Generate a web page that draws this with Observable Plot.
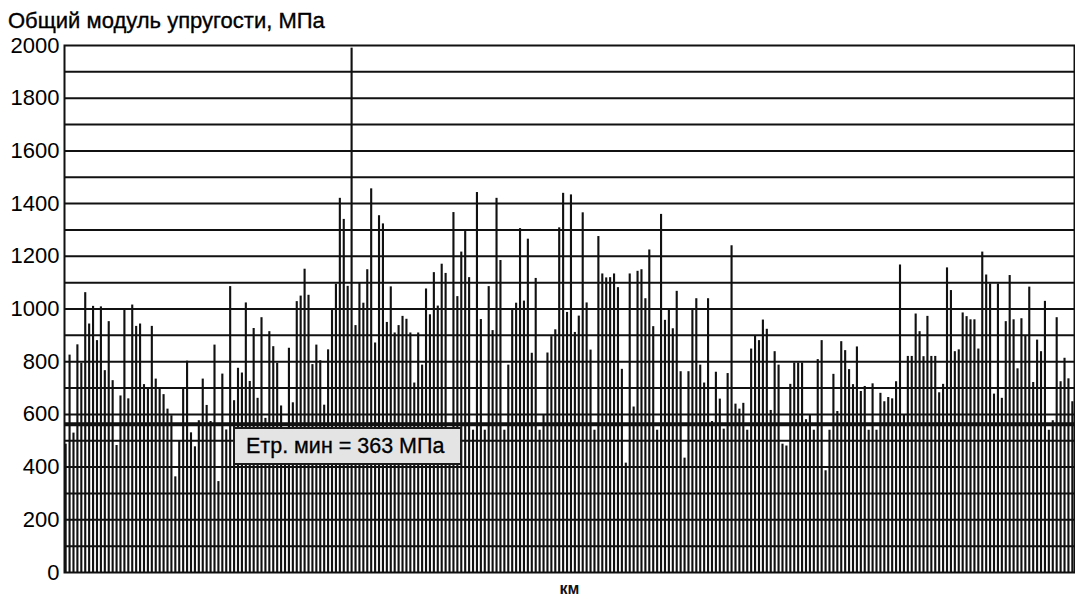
<!DOCTYPE html>
<html>
<head>
<meta charset="utf-8">
<script src="https://cdn.jsdelivr.net/npm/d3@7"></script>
<script src="https://cdn.jsdelivr.net/npm/@observablehq/plot@0.6"></script>
<style>
  html, body { margin: 0; padding: 0; background: #fff; }
  #wrap { position: relative; width: 1075px; height: 599px; font-family: "Liberation Sans", Arial, sans-serif; color: #000; }
  #title { position: absolute; left: 8px; top: 10px; font-size: 22px; line-height: 22px; white-space: nowrap; -webkit-text-stroke: 0.35px #000; }
  #note { position: absolute; left: 233px; top: 427px; width: 229px; height: 38px; box-sizing: border-box;
          background: #e4e4e4; border: 2px solid #1a1a1a; font-size: 21.5px; line-height: 34px; padding-left: 11px; white-space: nowrap; -webkit-text-stroke: 0.3px #000; }
  svg { display: block; }
</style>
</head>
<body>
<div id="wrap">
  <div id="chart"></div>
  <div id="title"></div>
  <div id="note"></div>
</div>
<script>
const titleText = "Общий модуль упругости, МПа";
const xLabel = "км";
const noteText = "Етр. мин = 363 МПа";
const yTicks = [0, 200, 400, 600, 800, 1000, 1200, 1400, 1600, 1800, 2000];
const gridValues = [100, 200, 300, 400, 500, 600, 700, 800, 900, 1000, 1100, 1200, 1300, 1400, 1500, 1600, 1700, 1800, 1900];
const requiredLine = [563];

// Общий модуль упругости по точкам измерений, МПа
const modulus = [
  487,825,529,864,794,1062,943,1010,880,1008,766,952,728,482,670,996,659,1015,934,943,713,695,934,734,695,675,620,595,363,500,696,802,530,477,576,734,634,573,863,345,753,541,1085,
  652,775,757,1023,725,926,661,967,585,914,857,794,632,540,851,644,1028,1049,1151,1052,789,863,804,635,845,997,1094,1420,1340,1086,1990,937,1097,1022,1149,1456,871,1354,1323,949,1084,909,937,
  972,961,909,719,909,787,1076,978,1138,1011,1170,1135,540,1366,1047,1216,1294,1119,540,1442,960,540,1085,918,1420,1184,540,787,996,1022,1305,1030,1265,832,1116,540,596,833,895,921,1308,1439,987,
  1433,911,973,1365,1023,844,540,1275,1133,1118,1119,1133,1081,771,415,1133,628,1143,1149,1039,1224,933,540,1359,957,996,925,1067,762,434,762,996,1039,787,719,1039,573,760,658,544,755,1240,639,
  620,642,540,848,896,880,958,923,615,838,787,487,480,714,795,795,795,580,597,540,808,880,386,540,752,611,876,842,770,713,856,687,706,540,716,540,680,648,664,659,724,1167,597,
  820,820,981,914,819,972,820,820,682,714,1156,1070,838,845,985,971,959,959,848,1216,1129,1095,677,1095,661,952,1127,959,773,963,896,1083,721,882,838,1029,540,576,967,724,813,735,648
];
const points = modulus.map((v, i) => ({km: i, E: v}));

document.getElementById("title").textContent = titleText;
document.getElementById("note").textContent = noteText;

const chart = Plot.plot({
  width: 1075,
  height: 599,
  marginTop: 45,
  marginBottom: 27,
  marginLeft: 64,
  marginRight: 1,
  style: {fontFamily: "'Liberation Sans', Arial, sans-serif", fontSize: "22px", color: "#000", background: "#fff"},
  x: {type: "band", domain: points.map(d => d.km), paddingInner: 0.46, paddingOuter: 0.15, axis: null},
  y: {domain: [0, 2000], ticks: yTicks, tickFormat: d => String(d), tickSize: 0, tickPadding: 5, label: null},
  marks: [
    Plot.barY(points, {x: "km", y: "E", fill: "#111"}),
    Plot.ruleY(gridValues, {stroke: "#111", strokeWidth: 2}),
    Plot.ruleY(requiredLine, {stroke: "#111", strokeWidth: 4}),
    Plot.frame({stroke: "#111", strokeWidth: 2}),
    Plot.axisY(yTicks, {tickSize: 0, tickPadding: 5, tickFormat: d => String(d), stroke: "#000", strokeWidth: 0.4, label: null}),
    Plot.text([xLabel], {frameAnchor: "bottom", dy: 21, fontSize: 16, fontWeight: "bold", fill: "#111"})
  ]
});
document.getElementById("chart").appendChild(chart);
</script>
</body>
</html>
